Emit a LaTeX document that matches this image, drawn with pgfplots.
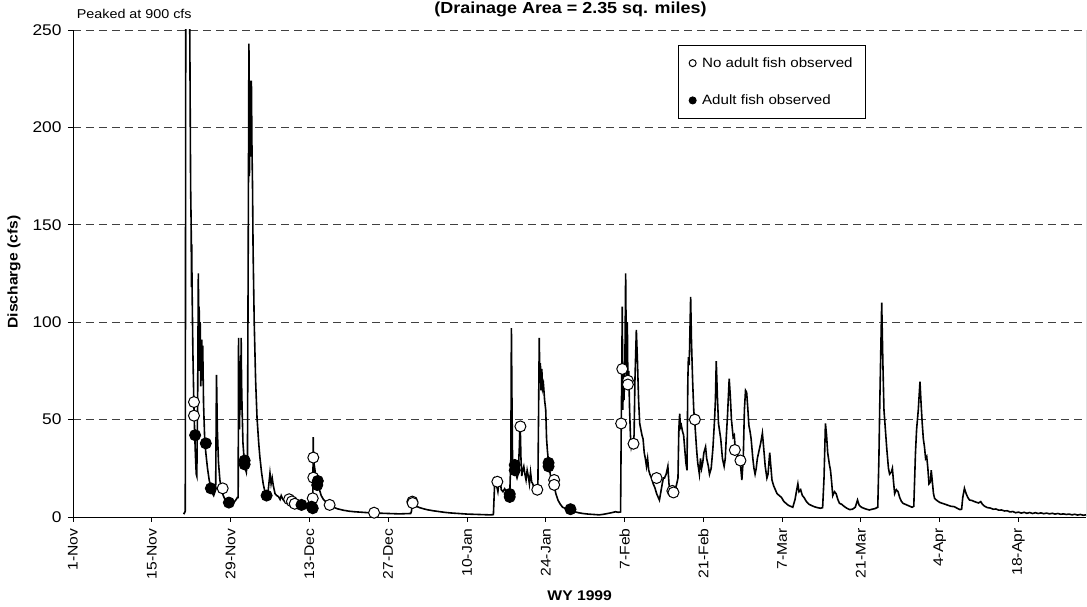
\documentclass[border=0pt]{standalone}
\usepackage{pgfplots}
\pgfplotsset{compat=1.18}
\usepackage{fontspec}
\setmainfont[FakeStretch=1.12]{Liberation Sans}
\begin{document}
\begin{tikzpicture}
\begin{axis}[
  name=ax, at={(0pt,0pt)}, anchor=south west,
  scale only axis, width=1013pt, height=487pt,
  xmin=0, xmax=180, ymin=0, ymax=250,
  axis x line*=bottom, axis y line*=left,
  axis line style={black, line width=0.9pt},
  xtick={0,14,...,168},
  xticklabels={1-Nov,15-Nov,29-Nov,13-Dec,27-Dec,10-Jan,24-Jan,7-Feb,21-Feb,7-Mar,21-Mar,4-Apr,18-Apr},
  ytick={0,50,...,250},
  tick align=outside, major tick length=5pt,
  tick style={black, line width=0.8pt},
  minor tick num=0,
  /pgf/number format/assume math mode=true,
  x tick label style={rotate=90, anchor=east, font=\fontsize{14}{16}\selectfont},
  y tick label style={font=\fontsize{15.5}{17}\selectfont},
  xticklabel shift=3pt,
  yticklabel shift=3pt,
  ymajorgrids,
  major grid style={dash pattern=on 8pt off 5pt, black!75, line width=0.8pt},
  legend style={at={(0.597,0.969)}, anchor=north west, draw=black, line width=0.8pt,
    font=\fontsize{13.5}{16}\selectfont, row sep=22pt, inner xsep=11pt, inner ysep=10pt,
    /tikz/every odd column/.append style={column sep=4pt}},
  legend cell align=left,
  legend image code/.code={\draw[#1, mark size=3.5pt] plot coordinates {(0pt,0pt)};},
]
\addplot[black, line width=1.6pt, forget plot] table {
19.6 2.0
19.75 1.8
19.95 3
20.05 300
20.2 900
20.55 600
20.75 250
20.9 170
21.0 149
21.05 118
21.1 140
21.15 120
21.3 85
21.45 62
21.6 45
21.75 32
21.9 22
22.0 21
22.15 60
22.27 125
22.35 95
22.42 108
22.5 75
22.6 100
22.7 67
22.8 80
22.88 91
22.95 70
23.05 88
23.2 58
23.4 40
23.6 33
23.9 25
24.2 19
24.5 15
24.8 12
25.0 11
25.35 14
25.5 73
25.65 45
25.85 28
26.1 19
26.4 14
26.7 11
27.0 9
27.4 7.5
27.8 6.5
28.2 7
28.6 7.5
29.0 9
29.2 10
29.35 10
29.42 92
29.5 60
29.6 45
29.7 80
29.8 55
29.88 92
29.95 70
30.05 55
30.2 38
30.4 30
30.6 25
30.8 23
31.0 30
31.15 150
31.26 243
31.35 175
31.45 224
31.55 185
31.7 224
31.8 190
31.9 170
32.0 137
32.2 100
32.45 70
32.7 51
33.0 38
33.2 31
33.5 23
33.8 17
34.1 13
34.4 11
34.7 14
35.0 22.5
35.2 17
35.4 20
35.6 16
35.9 12
36.2 11
36.5 10.5
36.8 9
37.0 11
37.3 9
37.6 8
37.9 9.5
38.2 8
38.5 9
38.8 8
39.1 7.5
39.5 7
39.9 6.5
40.3 6.5
40.7 6
41.1 5.8
41.5 5.5
42.0 5
42.5 4.8
42.62 5
42.68 41
42.8 22
42.95 25
43.2 20
43.5 17
43.8 14
44.1 11
44.5 9
45.0 7.5
45.6 6
46.3 5
47.0 4.2
48.0 3.5
49.0 3
50.0 2.7
51.0 2.5
52.0 2.3
53.0 2.1
54.0 2
55.0 1.9
56.0 1.8
57.0 1.7
58.0 1.6
59.0 1.7
60.0 1.8
60.15 3
60.3 7.5
60.5 6.8
61.0 5.5
61.6 4.8
62.3 4.2
63.0 3.7
64.0 3.2
65.0 2.8
66.0 2.4
67.0 2.1
68.0 1.9
69.0 1.7
70.0 1.5
71.0 1.4
72.0 1.3
73.0 1.2
74.0 1.1
74.7 1.2
74.85 12
74.95 19
75.2 17
75.5 13
75.7 18
75.9 19
76.1 14
76.4 13
76.7 14.5
77.0 13
77.3 12
77.6 11
77.8 30
77.9 97
78.0 60
78.1 30
78.3 27
78.5 25
78.7 22
78.9 20
79.1 22
79.3 35
79.45 49
79.6 30
79.75 21
79.9 24
80.1 26
80.3 22
80.5 19
80.7 24
80.9 21
81.1 17
81.3 23
81.5 18
81.7 17
81.9 15
82.2 14
82.4 13.5
82.6 14
82.75 60
82.85 92
82.95 70
83.05 79
83.15 65
83.3 76
83.45 66
83.6 68
83.8 60
84.0 55
84.15 40
84.3 34
84.5 28
84.8 22
85.1 19
85.5 16
85.8 12
86.2 8.5
86.6 6.5
87.0 5
87.6 4.3
88.3 3.6
89.0 2.8
89.8 2.2
90.6 1.8
91.5 1.5
92.5 1.3
93.5 1.1
94.3 1.4
95.0 1.8
95.7 2.2
96.4 2.7
96.9 2.4
97.3 2.6
97.42 48
97.5 70
97.6 108
97.7 55
97.8 76
97.9 60
98.0 70
98.1 90
98.2 125
98.3 90
98.4 72
98.5 100
98.6 68
98.75 75
98.9 55
99.05 42
99.2 36
99.35 38
99.5 37
99.7 42
99.85 70
100.1 96
100.3 80
100.5 60
100.7 48
100.9 45
101.1 42
101.3 40
101.5 33
101.7 30
101.9 26
102.1 30
102.3 24
102.5 22
102.8 20
103.1 17
103.4 15
103.7 12
104.0 10
104.2 8.7
104.4 12
104.7 17
104.9 20
105.1 20
105.4 22
105.7 26
105.9 17
106.1 14
106.3 13
106.6 13
106.9 15
107.2 16
107.5 20
107.65 45
107.8 53
107.95 46
108.1 47
108.3 44
108.5 42
108.7 35
108.9 28
109.1 24
109.25 70
109.35 82
109.5 78
109.75 113
109.9 90
110.1 70
110.3 55
110.5 48
110.8 35
111.0 28
111.3 22
111.5 30
111.7 25
111.9 28
112.1 33
112.4 36
112.6 30
112.9 26
113.1 22
113.4 25
113.7 35
114.0 50
114.15 60
114.3 80
114.5 62
114.7 48
114.9 44
115.1 40
115.4 30
115.7 26
115.9 30
116.1 42
116.3 52
116.6 71
116.8 62
117.0 50
117.3 41
117.5 42
117.7 34
117.9 35
118.1 32
118.4 30
118.6 27
118.85 19
119.1 30
119.3 55
119.5 65
119.7 64
119.9 56
120.1 47
120.3 44
120.5 40
120.8 30
121.0 25
121.2 22
121.4 25
121.6 30
121.9 34
122.2 38
122.5 43
122.8 33
123.0 26
123.3 20
123.5 22
123.8 33
124.0 26
124.2 19
124.5 16
124.8 14
125.1 12
125.5 11
125.9 10
126.3 8
126.7 7
127.1 6
127.5 5.5
127.9 5
128.3 9
128.6 14
128.8 17
129.0 13
129.3 14
129.6 11
129.9 10
130.3 8
130.8 6.5
131.3 5.8
131.8 5.2
132.3 4.8
132.8 4.5
133.2 4.8
133.45 20
133.7 48
133.9 42
134.1 33
134.4 27
134.6 24
134.8 18
135.0 11
135.3 13
135.6 12
135.9 9
136.2 7
136.6 6.5
137.0 5.5
137.5 4.5
138.0 3.8
138.5 4
139.0 5
139.4 8.7
139.7 6
140.1 5
140.5 4.5
141.0 4
141.5 3.6
142.0 4
142.5 4.3
143.0 5
143.2 30
143.35 57
143.5 80
143.7 110
143.9 80
144.1 55
144.3 47
144.6 35
144.9 25
145.1 22
145.4 23
145.6 25
145.8 18
146.0 12
146.3 14
146.6 13
146.9 10
147.2 8
147.5 7
147.9 6.5
148.3 6
148.7 5.5
149.1 5
149.4 5.5
149.7 33
149.9 45
150.2 55
150.5 69.5
150.7 58
150.9 48
151.1 40
151.3 36
151.5 30
151.7 31
151.9 25
152.1 17
152.35 18
152.5 24
152.7 18
152.9 12
153.1 9.5
153.5 8.5
154.0 7.5
154.5 7
155.0 6.5
155.5 6
156.0 5.5
156.6 5.3
157.1 4.5
157.6 3.8
157.9 4
158.1 10
158.4 14.7
158.7 12
159.0 10
159.3 8.7
159.7 8.5
160.1 8
160.5 7.6
160.9 7.2
161.3 7.9
161.6 6.5
162.0 5.5
162.5 4.8
163.0 4.6
163.5 4.0
164.0 4.1
164.5 3.5
165.0 3.6
165.5 3.1
166.0 3.2
166.5 2.6
167.0 2.8
167.5 2.2
168.0 2.5
168.5 2.0
169.0 2.4
169.5 1.9
170.0 2.3
170.5 1.8
171.0 2.2
171.5 1.8
172.0 2.1
172.5 1.7
173.0 2.0
173.5 1.6
174.0 1.9
174.5 1.5
175.0 1.8
175.5 1.4
176.0 1.6
176.5 1.3
177.0 1.5
177.5 1.1
178.0 1.4
178.5 1.0
179.0 1.3
179.5 0.9
180.0 1.1
};
\addplot[only marks, mark=*, mark size=5.5pt, mark options={fill=white, draw=black, line width=1pt}] table {
21.5 59
21.5 52
26.6 14.7
38.4 9.1
38.9 8.0
39.4 6.8
42.7 30.5
42.7 20.2
42.6 9.6
45.6 6.2
53.5 2.2
60.3 7.9
60.35 7.2
75.4 18.1
79.5 46.5
82.5 14
85.5 19
85.5 16.5
97.4 48
97.6 76
98.6 70
98.6 68
99.6 37.6
103.7 20
106.5 13.4
106.7 12.6
110.5 50
117.6 34.4
118.6 29
};
\addlegendentry{No adult fish observed}
\addplot[only marks, mark=*, mark size=5.5pt, mark options={fill=black, draw=black, line width=1pt}] table {
21.7 42
23.6 37.8
24.5 14.7
27.7 7.4
30.5 29
30.5 27
34.4 11
40.6 6.2
42.4 5.3
42.6 4.5
43.4 16.4
43.5 18.5
77.6 11.8
77.6 10.3
78.5 26.7
78.5 24
84.5 27.8
84.5 26
88.4 4
};
\addlegendentry{Adult fish observed}
\draw[black, line width=0.9pt] (rel axis cs:1,0) -- (rel axis cs:1,1);
\end{axis}
\node[font=\bfseries\fontsize{16}{19}\selectfont, anchor=base] at (497.5pt,503pt) {(Drainage Area = 2.35 sq. miles)};
\node[font=\fontsize{12.8}{15}\selectfont, anchor=base west, inner sep=0pt] at (3.7pt,498.7pt) {Peaked at 900 cfs};
\node[font=\bfseries\fontsize{14}{17}\selectfont, rotate=90, anchor=center] at (-59pt,245pt) {Discharge (cfs)};
\node[font=\bfseries\fontsize{14}{17}\selectfont, anchor=base] at (506.7pt,-83.5pt) {WY 1999};
\pgfresetboundingbox
\path (-73pt,-90pt) rectangle (1014pt,517pt);
\end{tikzpicture}
\end{document}
